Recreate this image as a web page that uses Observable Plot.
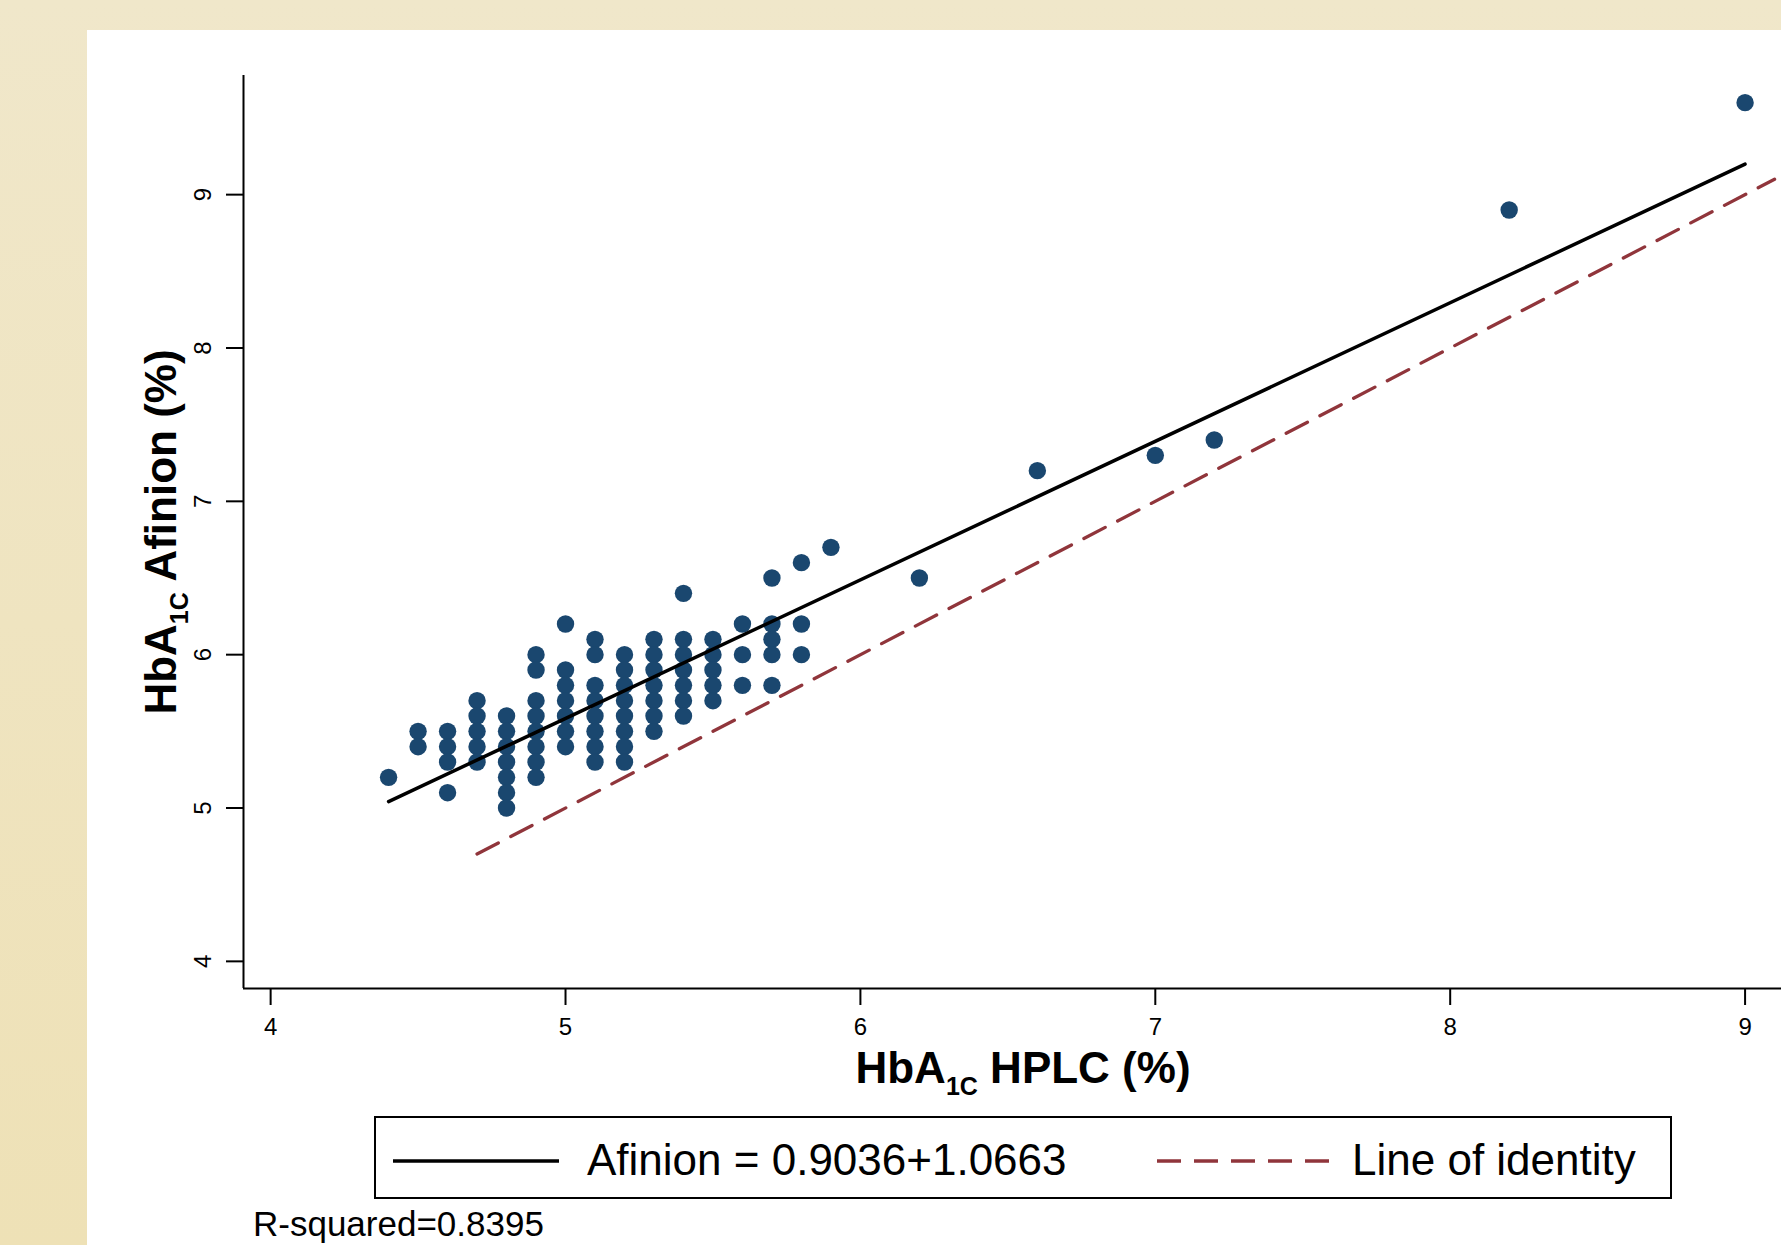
<!DOCTYPE html>
<html>
<head>
<meta charset="utf-8">
<script src="https://cdn.jsdelivr.net/npm/d3@7"></script>
<script src="https://cdn.jsdelivr.net/npm/@observablehq/plot@0.6"></script>
<style>
  html, body { margin: 0; padding: 0; width: 1781px; height: 1245px; overflow: hidden;
    background: linear-gradient(#F0E7CA, #EEE1B6); font-family: "Liberation Sans", Arial, Helvetica, sans-serif; }
  #panel { position: absolute; left: 87px; top: 30px; width: 1694px; height: 1215px; background: #ffffff; }
  #chart { position: absolute; left: 0; top: 0; }
  #legend { position: absolute; left: 374px; top: 1116px; }
  #caption { position: absolute; left: 253px; top: 1206px; font-size: 35px; color: #000; white-space: pre; line-height: 1; }
</style>
</head>
<body>
<div id="panel"></div>
<div id="chart"></div>
<svg id="legend" width="1298" height="84"></svg>
<div id="caption"></div>
<script>
// ---------------- data ----------------
// HbA1c by HPLC (%) for each column of points
const hplcValues = [4.4, 4.5, 4.6, 4.7, 4.8, 4.9, 5.0, 5.1, 5.2, 5.3, 5.4, 5.5, 5.6, 5.7, 5.8, 5.9, 6.2, 6.6, 7.0, 7.2, 8.2, 9.0];
// HbA1c by Afinion (%) observed at each HPLC value
const afinionValues = [
  [5.2],
  [5.5, 5.4],
  [5.5, 5.4, 5.3, 5.1],
  [5.7, 5.6, 5.5, 5.4, 5.3],
  [5.6, 5.5, 5.4, 5.3, 5.2, 5.1, 5.0],
  [6.0, 5.9, 5.7, 5.6, 5.5, 5.4, 5.3, 5.2],
  [6.2, 5.9, 5.8, 5.7, 5.6, 5.5, 5.4],
  [6.1, 6.0, 5.8, 5.7, 5.6, 5.5, 5.4, 5.3],
  [6.0, 5.9, 5.8, 5.7, 5.6, 5.5, 5.4, 5.3],
  [6.1, 6.0, 5.9, 5.8, 5.7, 5.6, 5.5],
  [6.4, 6.1, 6.0, 5.9, 5.8, 5.7, 5.6],
  [6.1, 6.0, 5.9, 5.8, 5.7],
  [6.2, 6.0, 5.8],
  [6.5, 6.2, 6.1, 6.0, 5.8],
  [6.6, 6.2, 6.0],
  [6.7],
  [6.5],
  [7.2],
  [7.3],
  [7.4],
  [8.9],
  [9.6]
];
// fitted regression (Afinion = intercept + slope * HPLC) and its x-extent
const fitIntercept = 1.0663;
const fitSlope = 0.9036;
const fitRange = [4.4, 9.0];
// line of identity extent
const identityRange = [4.7, 9.1];
// ticks
const xTicks = [4, 5, 6, 7, 8, 9];
const yTicks = [4, 5, 6, 7, 8, 9];
// texts
const xTitle = ["HbA", "1C", " HPLC (%)"];
const yTitle = ["HbA", "1C", " Afinion (%)"];
const legendLabels = ["Afinion = 0.9036+1.0663", "Line of identity"];
const captionText = "R-squared=0.8395";

// ---------------- build ----------------
const points = hplcValues.flatMap((x, i) => afinionValues[i].map(y => ({x, y})));
const fitLine = fitRange.map(x => ({x, y: fitIntercept + fitSlope * x}));
const identityLine = identityRange.map(x => ({x, y: x}));

const W = 1781, H = 1100;
const xDomain = [3.908, 9.1235];
const yDomain = [3.823, 9.777];
const navy = "#1a476f", maroon = "#90353b";

const plot = Plot.plot({
  width: W,
  height: H,
  marginLeft: 243,
  marginRight: 0,
  marginTop: 75,
  marginBottom: H - 988,
  style: {background: "transparent", fontFamily: "'Liberation Sans', Arial, Helvetica, sans-serif", color: "#000", overflow: "visible"},
  x: {domain: xDomain},
  y: {domain: yDomain},
  marks: [
    Plot.ruleX([xDomain[0]], {stroke: "#000", strokeWidth: 2}),
    Plot.ruleY([yDomain[0]], {stroke: "#000", strokeWidth: 2}),
    Plot.axisX(xTicks, {tickSize: 17, tickPadding: 12, fontSize: 24, strokeWidth: 2, label: null, tickFormat: d => String(d)}),
    Plot.axisY(yTicks, {tickSize: 17, tickPadding: 16, fontSize: 24, strokeWidth: 2, tickRotate: -90,
                        textAnchor: "middle", lineAnchor: "bottom", label: null, tickFormat: d => String(d)}),
    Plot.dot(points, {x: "x", y: "y", r: 8.7, fill: navy, stroke: "none"}),
    Plot.line(identityLine, {x: "x", y: "y", stroke: maroon, strokeWidth: 3.3, strokeDasharray: "24,14"}),
    Plot.line(fitLine, {x: "x", y: "y", stroke: "#000", strokeWidth: 3.5})
  ]
});
document.getElementById("chart").appendChild(plot);

// axis titles with subscripts
const svg = d3.select(plot);
function title(sel, parts) {
  sel.attr("font-size", 44).attr("font-weight", "bold").attr("fill", "#000")
     .attr("text-anchor", "middle").style("white-space", "pre");
  sel.append("tspan").text(parts[0]);
  sel.append("tspan").attr("font-size", 25).attr("dy", 12).text(parts[1]);
  sel.append("tspan").attr("dy", -12).text(parts[2]);
}
title(svg.append("text").attr("x", 1023).attr("y", 1083), xTitle);
title(svg.append("text").attr("transform", "translate(176,532) rotate(-90)"), yTitle);

// legend
const lg = d3.select("#legend");
lg.append("rect").attr("x", 1).attr("y", 1).attr("width", 1296).attr("height", 81)
  .attr("fill", "#fff").attr("stroke", "#000").attr("stroke-width", 2);
lg.append("line").attr("x1", 19).attr("x2", 185).attr("y1", 45).attr("y2", 45)
  .attr("stroke", "#000").attr("stroke-width", 3.5);
lg.append("text").attr("x", 213).attr("y", 59).attr("font-size", 44).attr("fill", "#000").text(legendLabels[0]);
lg.append("line").attr("x1", 783).attr("x2", 955).attr("y1", 45).attr("y2", 45)
  .attr("stroke", maroon).attr("stroke-width", 3.3).attr("stroke-dasharray", "24,13");
lg.append("text").attr("x", 978).attr("y", 59).attr("font-size", 44).attr("fill", "#000").text(legendLabels[1]);

document.getElementById("caption").textContent = captionText;
</script>
</body>
</html>
